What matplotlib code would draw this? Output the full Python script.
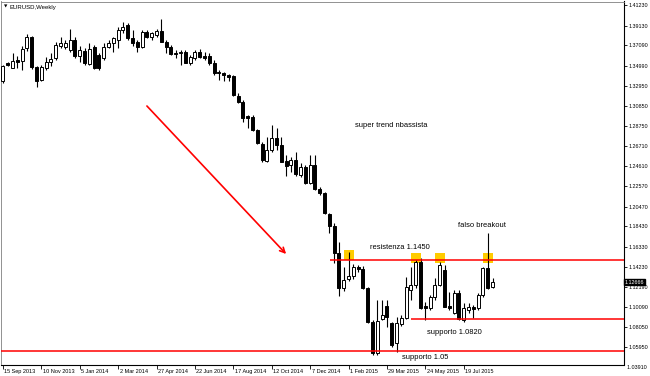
import matplotlib
matplotlib.use("Agg")
import matplotlib.pyplot as plt
import matplotlib.transforms as mtransforms
import numpy as np

# ---------------- data (EURUSD weekly) ----------------
opens = [1.3342, 1.3531, 1.3481, 1.3559, 1.3548, 1.3679, 1.3796, 1.3486, 1.3352, 1.3481,
         1.3543, 1.3576, 1.3698, 1.3693, 1.3662, 1.3765, 1.3595, 1.3652, 1.3517, 1.3693,
         1.3615, 1.3584, 1.3696, 1.3731, 1.3765, 1.3863, 1.3920, 1.3782, 1.3747, 1.3690,
         1.3851, 1.3799, 1.3817, 1.3861, 1.3747, 1.3690, 1.3634, 1.3628, 1.3644, 1.3531,
         1.3576, 1.3644, 1.3600, 1.3600, 1.3531, 1.3438, 1.3421, 1.3404, 1.3397, 1.3187,
         1.3128, 1.2976, 1.2971, 1.2836, 1.2692, 1.2520, 1.2630, 1.2757, 1.2682, 1.2517,
         1.2475, 1.2527, 1.2372, 1.2458, 1.2293, 1.2475, 1.2224, 1.2183, 1.1970, 1.1846,
         1.1567, 1.1206, 1.1299, 1.1330, 1.1418, 1.1407, 1.1203, 1.0858, 1.0532, 1.0883,
         1.1020, 1.0842, 1.0636, 1.0835, 1.0894, 1.1186, 1.1237, 1.1478, 1.1020, 1.0997,
         1.1116, 1.1237, 1.1392, 1.1020, 1.0945, 1.1151, 1.0876, 1.0979, 1.1013, 1.0997,
         1.1134, 1.1409, 1.1216]
highs = [1.3507, 1.3543, 1.3626, 1.3595, 1.3698, 1.3822, 1.3806, 1.3497, 1.3507, 1.3590,
         1.3626, 1.3747, 1.3796, 1.3765, 1.3879, 1.3796, 1.3698, 1.3682, 1.3729, 1.3713,
         1.3631, 1.3731, 1.3765, 1.3799, 1.3894, 1.3946, 1.3937, 1.3868, 1.3765, 1.3868,
         1.3868, 1.3851, 1.3875, 1.3979, 1.3765, 1.3713, 1.3662, 1.3662, 1.3662, 1.3610,
         1.3662, 1.3669, 1.3644, 1.3628, 1.3559, 1.3455, 1.3430, 1.3409, 1.3404, 1.3221,
         1.3146, 1.2986, 1.2991, 1.2847, 1.2716, 1.2767, 1.2888, 1.2854, 1.2767, 1.2578,
         1.2561, 1.2612, 1.2493, 1.2475, 1.2578, 1.2578, 1.2251, 1.2197, 1.1980, 1.1877,
         1.1681, 1.1423, 1.1578, 1.1454, 1.1443, 1.1433, 1.1216, 1.0876, 1.1082, 1.1082,
         1.1082, 1.0858, 1.0910, 1.0928, 1.1323, 1.1426, 1.1495, 1.1516, 1.1065, 1.1134,
         1.1306, 1.1478, 1.1443, 1.1168, 1.1186, 1.1186, 1.1048, 1.1051, 1.1031, 1.1151,
         1.1426, 1.1774, 1.1309]
lows = [1.3321, 1.3497, 1.3471, 1.3476, 1.3455, 1.3652, 1.3466, 1.3280, 1.3337, 1.3455,
        1.3492, 1.3559, 1.3682, 1.3672, 1.3646, 1.3579, 1.3543, 1.3507, 1.3507, 1.3466,
        1.3455, 1.3559, 1.3682, 1.3636, 1.3682, 1.3837, 1.3765, 1.3698, 1.3646, 1.3679,
        1.3782, 1.3765, 1.3799, 1.3744, 1.3631, 1.3610, 1.3579, 1.3507, 1.3525, 1.3507,
        1.3559, 1.3576, 1.3559, 1.3507, 1.3404, 1.3352, 1.3337, 1.3337, 1.3187, 1.3118,
        1.2922, 1.2857, 1.2829, 1.2692, 1.2509, 1.2509, 1.2612, 1.2630, 1.2506, 1.2365,
        1.2406, 1.2365, 1.2354, 1.2279, 1.2284, 1.2217, 1.2166, 1.1970, 1.1774, 1.1464,
        1.1124, 1.1175, 1.1278, 1.1299, 1.1371, 1.1196, 1.0850, 1.0515, 1.0515, 1.0876,
        1.0807, 1.0601, 1.0549, 1.0814, 1.0886, 1.1082, 1.1206, 1.0989, 1.0876, 1.0979,
        1.1082, 1.1227, 1.1010, 1.0979, 1.0938, 1.0876, 1.0858, 1.0948, 1.0894, 1.0979,
        1.1116, 1.1196, 1.1206]
closes = [1.3497, 1.3510, 1.3548, 1.3533, 1.3677, 1.3799, 1.3486, 1.3337, 1.3486, 1.3543,
          1.3574, 1.3713, 1.3729, 1.3734, 1.3765, 1.3595, 1.3662, 1.3528, 1.3677, 1.3476,
          1.3476, 1.3696, 1.3739, 1.3782, 1.3868, 1.3902, 1.3782, 1.3731, 1.3690, 1.3851,
          1.3799, 1.3834, 1.3861, 1.3747, 1.3690, 1.3621, 1.3617, 1.3644, 1.3531, 1.3593,
          1.3644, 1.3586, 1.3582, 1.3525, 1.3421, 1.3421, 1.3404, 1.3388, 1.3198, 1.3128,
          1.2957, 1.2960, 1.2836, 1.2699, 1.2527, 1.2630, 1.2757, 1.2682, 1.2509, 1.2468,
          1.2527, 1.2379, 1.2458, 1.2286, 1.2475, 1.2224, 1.2183, 1.1980, 1.1846, 1.1567,
          1.1206, 1.1289, 1.1330, 1.1423, 1.1402, 1.1203, 1.0858, 1.0532, 1.0866, 1.0928,
          1.0910, 1.0618, 1.0842, 1.0894, 1.1220, 1.1237, 1.1478, 1.0997, 1.0997, 1.1116,
          1.1237, 1.1443, 1.1013, 1.1003, 1.1151, 1.0883, 1.0997, 1.1013, 1.0986, 1.1134,
          1.1409, 1.1203, 1.1267]

date_tick_bars = [0, 8, 16, 24, 32, 40, 48, 56, 64, 72, 80, 88, 96]
date_labels = ["15 Sep 2013", "10 Nov 2013", "5 Jan 2014", "2 Mar 2014", "27 Apr 2014",
               "22 Jun 2014", "17 Aug 2014", "12 Oct 2014", "7 Dec 2014", "1 Feb 2015",
               "29 Mar 2015", "24 May 2015", "19 Jul 2015"]
price_ticks = [1.41230, 1.39130, 1.37090, 1.34990, 1.32950, 1.30850, 1.28750, 1.26710,
               1.24610, 1.22570, 1.20470, 1.18430, 1.16330, 1.14230, 1.12190, 1.10090,
               1.08050, 1.05950, 1.03910]
current_price = 1.12666

# annotation levels
resistance_level = 1.1495
resistance_start = 68.1
support1_level = 1.0883
support1_start = 85.0
support2_level = 1.0556
square_bars = [72, 86, 91, 101]
square_levels = [1.1547, 1.1516, 1.1511, 1.1516]
arrow_start = (30.0, 1.3084)
arrow_end = (59.0, 1.1557)

# ---------------- figure ----------------
W, H = 650, 376
fig = plt.figure(figsize=(W / 100, H / 100), dpi=100)
fig.patch.set_facecolor("white")
ax = fig.add_axes([1 / W, (H - 364.5) / H, 623 / W, (364.5 - 1.5) / H])
ax.set_facecolor("white")

n = len(opens)
x = np.arange(n)
o = np.array(opens); h = np.array(highs); l = np.array(lows); c = np.array(closes)
up = c >= o

# yellow squares (behind candles and lines)
ax.scatter(square_bars, square_levels, marker="s", s=48, color="#ffcc00", zorder=1, linewidths=0)

ax.vlines(x, l, h, color="black", linewidth=0.8, zorder=2)
body_bottom = np.minimum(o, c)
body_height = np.maximum(np.abs(c - o), 0.0004)
ax.bar(x[up], body_height[up], bottom=body_bottom[up], width=0.62,
       color="white", edgecolor="black", linewidth=0.7, zorder=3)
ax.bar(x[~up], body_height[~up], bottom=body_bottom[~up], width=0.62,
       color="black", edgecolor="black", linewidth=0.7, zorder=3)

ax.set_xlim(-0.4, -0.4 + 623 / 4.8)
ax.set_ylim(1.04168, 1.41622)

# red levels
ax.hlines(resistance_level, resistance_start, ax.get_xlim()[1], color="#ff0000", linewidth=1.1, zorder=4)
ax.hlines(support1_level, support1_start, ax.get_xlim()[1], color="#ff0000", linewidth=1.1, zorder=4)
ax.hlines(support2_level, ax.get_xlim()[0], ax.get_xlim()[1], color="#ff0000", linewidth=1.1, zorder=4)

# arrow
ax.annotate("", xy=arrow_end, xytext=arrow_start,
            arrowprops=dict(arrowstyle="->", color="#ff0000", lw=1.2,
                            mutation_scale=9, shrinkA=0, shrinkB=0), zorder=6)

fs_note = 5.4
ax.text(73.35, 1.2878, "super trend nbassista", fontsize=fs_note, family="Liberation Sans",
        ha="left", va="center")
ax.text(76.5, 1.1619, "resistenza 1.1450", fontsize=fs_note, family="Liberation Sans",
        ha="left", va="center")
ax.text(94.8, 1.1846, "falso breakout", fontsize=fs_note, family="Liberation Sans",
        ha="left", va="center")
ax.text(88.35, 1.0752, "supporto 1.0820", fontsize=fs_note, family="Liberation Sans",
        ha="left", va="center")
ax.text(83.15, 1.0484, "supporto 1.05", fontsize=fs_note, family="Liberation Sans",
        ha="left", va="center", clip_on=False)

# frame
for side in ["top", "left"]:
    ax.spines[side].set_color("#808080")
    ax.spines[side].set_linewidth(0.6)
for side in ["right", "bottom"]:
    ax.spines[side].set_color("black")
    ax.spines[side].set_linewidth(0.8)

# price axis
ax.yaxis.tick_right()
in_range = [p for p in price_ticks if ax.get_ylim()[0] <= p <= ax.get_ylim()[1]]
ax.set_yticks(in_range)
ax.set_yticklabels([f"{p:.5f}" for p in in_range])
ax.tick_params(axis="y", which="both", direction="out", length=2.5, width=0.6,
               pad=1.0, labelsize=3.9, colors="black")
for lab in ax.get_yticklabels():
    lab.set_family("Liberation Sans")
ytrans = ax.get_yaxis_transform()
for p in price_ticks:
    if p not in in_range:
        ax.text(1.0, p, "  " + f"{p:.5f}", transform=ytrans, fontsize=3.9, family="Liberation Sans",
                ha="left", va="center", clip_on=False)

# current price box
ax.text(1.0015, current_price, f"{current_price:.5f}", transform=ytrans, fontsize=3.9,
        family="Liberation Sans", color="white", ha="left", va="center", clip_on=False,
        bbox=dict(boxstyle="square,pad=0.15", facecolor="black", edgecolor="black"), zorder=10)

# time axis
ax.set_xticks(date_tick_bars)
ax.set_xticklabels(date_labels)
ax.tick_params(axis="x", direction="out", length=3.0, width=0.6, pad=0.5,
               labelsize=4.0, colors="black")
offset = mtransforms.ScaledTranslation(1.5 / 100, 0, fig.dpi_scale_trans)
for lab in ax.get_xticklabels():
    lab.set_horizontalalignment("left")
    lab.set_family("Liberation Sans")
    lab.set_transform(lab.get_transform() + offset)

# title
fig.text(4 / W, 1 - 7 / H, "\u25BC", fontsize=3.2, family="DejaVu Sans", ha="left", va="center")
fig.text(10 / W, 1 - 7 / H, "EURUSD,Weekly", fontsize=4.3, family="Liberation Sans",
         ha="left", va="center")

fig.savefig("out.png", dpi=100, facecolor="white")
